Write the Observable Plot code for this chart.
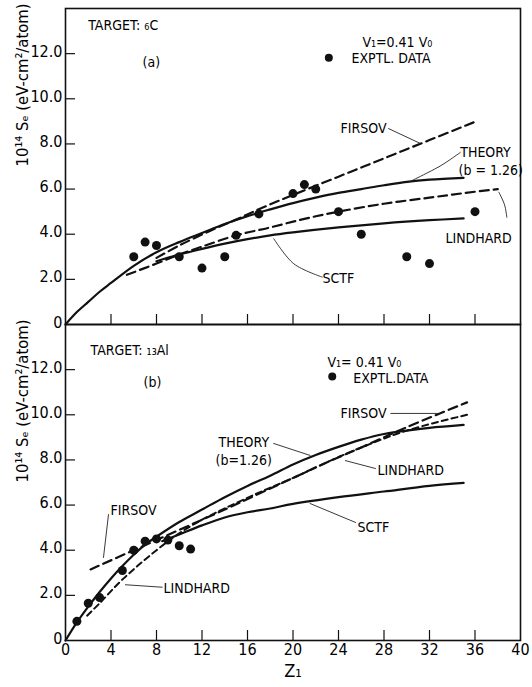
<!DOCTYPE html>
<html>
<head>
<meta charset="utf-8">
<script src="https://cdn.jsdelivr.net/npm/d3@7"></script>
<script src="https://cdn.jsdelivr.net/npm/@observablehq/plot@0.6"></script>
<style>
  body { margin: 0; background: #fff; }
  #chart svg { font-family: "DejaVu Sans Condensed", "Liberation Sans Narrow", "DejaVu Sans", sans-serif; font-stretch: condensed; }
</style>
</head>
<body>
<div id="chart"></div>
<script>
// Panels: (a) carbon target, (b) aluminium target
const panels = ["C", "Al"];

// Axis ticks
const xTickValues = [4, 8, 12, 16, 20, 24, 28, 32, 36];
const xLabelValues = [0, 4, 8, 12, 16, 20, 24, 28, 32, 36, 40];
const yTickValues = [2, 4, 6, 8, 10, 12];
const yLabelValues = [0, 2, 4, 6, 8, 10, 12];
const yLabelTexts = ["0", "2.0", "4.0", "6.0", "8.0", "10.0", "12.0"];

// (a) Target 6C — experimental points
const cExptZ  = [6, 7, 8, 10, 12, 14, 15, 17, 20, 21, 22, 24, 26, 30, 32, 36];
const cExptSe = [3.0, 3.65, 3.5, 3.0, 2.5, 3.0, 3.95, 4.9, 5.8, 6.2, 6.0, 5.0, 4.0, 3.0, 2.7, 5.0];

// (a) calculated curves
const cTheoryZ  = [0, 1, 2, 3, 4, 6, 8, 10, 12, 14, 16, 18, 20, 22, 24, 26, 28, 30, 32, 35];
const cTheorySe = [0, 0.55, 1.0, 1.45, 1.84, 2.6, 3.2, 3.65, 4.05, 4.45, 4.8, 5.1, 5.38, 5.62, 5.83, 6.0, 6.17, 6.32, 6.42, 6.5];
const cSctfZ  = [8, 10, 12, 14, 16, 18, 20, 24, 28, 32, 35];
const cSctfSe = [2.8, 3.1, 3.35, 3.58, 3.78, 3.95, 4.08, 4.3, 4.48, 4.62, 4.7];
const cFirsovZ  = [8, 10, 12.5, 15, 17.2, 20, 24, 28, 32, 36];
const cFirsovSe = [2.95, 3.5, 4.1, 4.65, 5.15, 5.74, 6.55, 7.36, 8.17, 8.98];
const cLindhardZ  = [5.4, 8, 10, 12, 15, 18, 21, 24, 28, 32, 35, 38];
const cLindhardSe = [2.2, 2.7, 3.1, 3.45, 3.95, 4.3, 4.68, 5.0, 5.35, 5.62, 5.82, 6.0];

// (b) Target 13Al — experimental points
const alExptZ  = [1, 2, 3, 5, 6, 7, 8, 9, 10, 11];
const alExptSe = [0.85, 1.65, 1.9, 3.1, 4.0, 4.4, 4.5, 4.45, 4.2, 4.05];

// (b) calculated curves
const alTheoryZ  = [0, 1, 2, 3, 4, 5, 6, 7, 8, 10, 12, 14, 16, 18, 20, 22, 24, 26, 28, 30, 32, 35];
const alTheorySe = [0, 0.8, 1.5, 2.15, 2.75, 3.3, 3.8, 4.25, 4.6, 5.25, 5.8, 6.35, 6.85, 7.3, 7.8, 8.22, 8.58, 8.9, 9.15, 9.3, 9.42, 9.55];
const alSctfZ  = [8.5, 10, 12, 14, 16, 18, 20, 24, 28, 32, 35];
const alSctfSe = [4.4, 4.7, 5.1, 5.45, 5.68, 5.85, 6.05, 6.35, 6.6, 6.85, 6.98];
const alFirsovZ  = [2.2, 6, 10, 14, 17, 20, 23, 26, 30, 35.3];
const alFirsovSe = [3.15, 4.0, 4.9, 5.8, 6.5, 7.2, 7.9, 8.55, 9.45, 10.55];
const alLindhardZ  = [1.9, 3, 5, 8, 10, 12, 14, 17, 20, 23, 26, 30, 35.3];
const alLindhardSe = [1.1, 1.65, 2.7, 4.0, 4.75, 5.35, 5.85, 6.55, 7.2, 7.9, 8.55, 9.3, 10.0];

// Text
const yTitle = "10¹⁴ Sₑ (eV-cm²/atom)";
const xTitle = "Z₁";

const annotations = [
  {panel: "C", x: 2.0, y: 13.25, text: "TARGET: ₆C"},
  {panel: "C", x: 6.77, y: 11.6, text: "(a)"},
  {panel: "C", x: 26.1, y: 12.5, text: "V₁=0.41 V₀"},
  {panel: "C", x: 25.14, y: 11.79, text: "EXPTL. DATA"},
  {panel: "C", x: 24.18, y: 8.68, text: "FIRSOV"},
  {panel: "C", x: 34.7, y: 7.6, text: "THEORY"},
  {panel: "C", x: 34.55, y: 6.82, text: "(b = 1.26)"},
  {panel: "C", x: 33.4, y: 3.81, text: "LINDHARD"},
  {panel: "C", x: 22.6, y: 2.04, text: "SCTF"},
  {panel: "Al", x: 2.2, y: 12.85, text: "TARGET: ₁₃Al"},
  {panel: "Al", x: 6.86, y: 11.43, text: "(b)"},
  {panel: "Al", x: 23.03, y: 12.32, text: "V₁= 0.41 V₀"},
  {panel: "Al", x: 25.3, y: 11.61, text: "EXPTL.DATA"},
  {panel: "Al", x: 24.18, y: 10.06, text: "FIRSOV"},
  {panel: "Al", x: 13.45, y: 8.76, text: "THEORY"},
  {panel: "Al", x: 13.19, y: 7.98, text: "(b=1.26)"},
  {panel: "Al", x: 27.43, y: 7.53, text: "LINDHARD"},
  {panel: "Al", x: 25.67, y: 5.0, text: "SCTF"},
  {panel: "Al", x: 3.96, y: 5.76, text: "FIRSOV"},
  {panel: "Al", x: 8.62, y: 2.3, text: "LINDHARD"}
];
const legendDots = [
  {panel: "C", x: 23.15, y: 11.82},
  {panel: "Al", x: 23.45, y: 11.7}
];
// Leader lines from labels to curves
const leaders = [
  {panel: "C", id: "cF", pts: [[28.4, 8.68], [31.2, 8.02]]},
  {panel: "C", id: "cT", pts: [[34.7, 7.62], [33.0, 7.04], [30.1, 6.29]]},
  {panel: "C", id: "cL", pts: [[38.8, 4.75], [38.6, 5.3], [38.1, 5.86]]},
  {panel: "C", id: "cS", pts: [[22.57, 2.1], [20.07, 2.69], [18.31, 3.8]]},
  {panel: "Al", id: "aF", pts: [[28.6, 10.06], [33.0, 10.06]]},
  {panel: "Al", id: "aT", pts: [[18.3, 8.73], [21.5, 8.2]]},
  {panel: "Al", id: "aL", pts: [[27.25, 7.62], [24.6, 7.97]]},
  {panel: "Al", id: "aS", pts: [[25.5, 5.23], [21.5, 6.07]]},
  {panel: "Al", id: "aF2", pts: [[3.78, 5.58], [3.34, 3.68]]},
  {panel: "Al", id: "aL2", pts: [[8.5, 2.36], [5.27, 2.47]]}
];

// Build tables
const rows = (panel, key, zs, ses) => zs.map((z, i) => ({panel, key, z, se: ses[i]}));
const solidCurves = [
  ...rows("C", "cT", cTheoryZ, cTheorySe),
  ...rows("C", "cS", cSctfZ, cSctfSe),
  ...rows("Al", "aT", alTheoryZ, alTheorySe),
  ...rows("Al", "aS", alSctfZ, alSctfSe)
];
const dashedCurves = [
  ...rows("C", "cF", cFirsovZ, cFirsovSe),
  ...rows("C", "cL", cLindhardZ, cLindhardSe),
  ...rows("Al", "aF", alFirsovZ, alFirsovSe)
];
const fineDashed = rows("Al", "aL", alLindhardZ, alLindhardSe);
const expt = [...rows("C", "c", cExptZ, cExptSe), ...rows("Al", "a", alExptZ, alExptSe)];
const leaderRows = leaders.flatMap(l => l.pts.map(([x, y]) => ({panel: l.panel, id: l.id, x, y})));
const xTicks = panels.flatMap(panel => xTickValues.map(v => ({panel, v})));
const yTicks = panels.flatMap(panel => yTickValues.map(v => ({panel, v})));
const yLabels = panels.flatMap(panel => yLabelValues.map((v, i) => ({panel, v, t: yLabelTexts[i]})));
const xLabels = xLabelValues.map(v => ({panel: "Al", v}));

const W = 532, H = 687;
const mL = 65, mR = 12, mT = 8, mB = 47;
const facetH = (H - mT - mB) / panels.length;
const frameW = W - mL - mR;
const tickLen = 10;

const chart = Plot.plot({
  width: W,
  height: H,
  marginLeft: mL,
  marginRight: mR,
  marginTop: mT,
  marginBottom: mB,
  x: {domain: [0, 40], axis: null},
  y: {domain: [0, 14], axis: null},
  fy: {domain: panels, axis: null, padding: 0},
  style: {background: "#fff", color: "#000", fontFamily: "'DejaVu Sans Condensed', 'Liberation Sans Narrow', 'DejaVu Sans', sans-serif"},
  marks: [
    Plot.frame({stroke: "#111", strokeWidth: 1.6}),
    Plot.ruleX(xTicks, {x: "v", fy: "panel", insetTop: facetH - tickLen, stroke: "#111", strokeWidth: 1.2}),
    Plot.ruleY(yTicks, {y: "v", fy: "panel", insetRight: frameW - tickLen, stroke: "#111", strokeWidth: 1.2}),
    Plot.text(yLabels, {y: "v", fy: "panel", text: "t", frameAnchor: "left", textAnchor: "end", dx: -3, dy: -2, fontSize: 16}),
    Plot.text(xLabels, {x: "v", fy: "panel", text: d => String(d.v), frameAnchor: "bottom", dy: 14, fontSize: 16}),
    Plot.text([{panel: "Al"}], {fy: "panel", text: () => xTitle, frameAnchor: "bottom", dy: 36, fontSize: 18}),
    Plot.text(panels.map(panel => ({panel})), {fy: "panel", text: () => yTitle, frameAnchor: "left", dx: -43, rotate: -90, fontSize: 16.5}),
    Plot.line(solidCurves, {x: "z", y: "se", z: "key", fy: "panel", curve: "catmull-rom", stroke: "#111", strokeWidth: 2.2}),
    Plot.line(dashedCurves, {x: "z", y: "se", z: "key", fy: "panel", curve: "catmull-rom", stroke: "#111", strokeWidth: 2.2, strokeDasharray: "9,5"}),
    Plot.line(fineDashed, {x: "z", y: "se", z: "key", fy: "panel", curve: "catmull-rom", stroke: "#111", strokeWidth: 2, strokeDasharray: "6,4"}),
    Plot.dot(expt, {x: "z", y: "se", fy: "panel", r: 4.5, fill: "#111", stroke: "none"}),
    Plot.dot(legendDots, {x: "x", y: "y", fy: "panel", r: 4, fill: "#111", stroke: "none"}),
    Plot.line(leaderRows, {x: "x", y: "y", z: "id", fy: "panel", curve: "catmull-rom", stroke: "#222", strokeWidth: 0.9}),
    Plot.text(annotations, {x: "x", y: "y", fy: "panel", text: "text", textAnchor: "start", fontSize: 14})
  ]
});
document.getElementById("chart").append(chart);
</script>
</body>
</html>
